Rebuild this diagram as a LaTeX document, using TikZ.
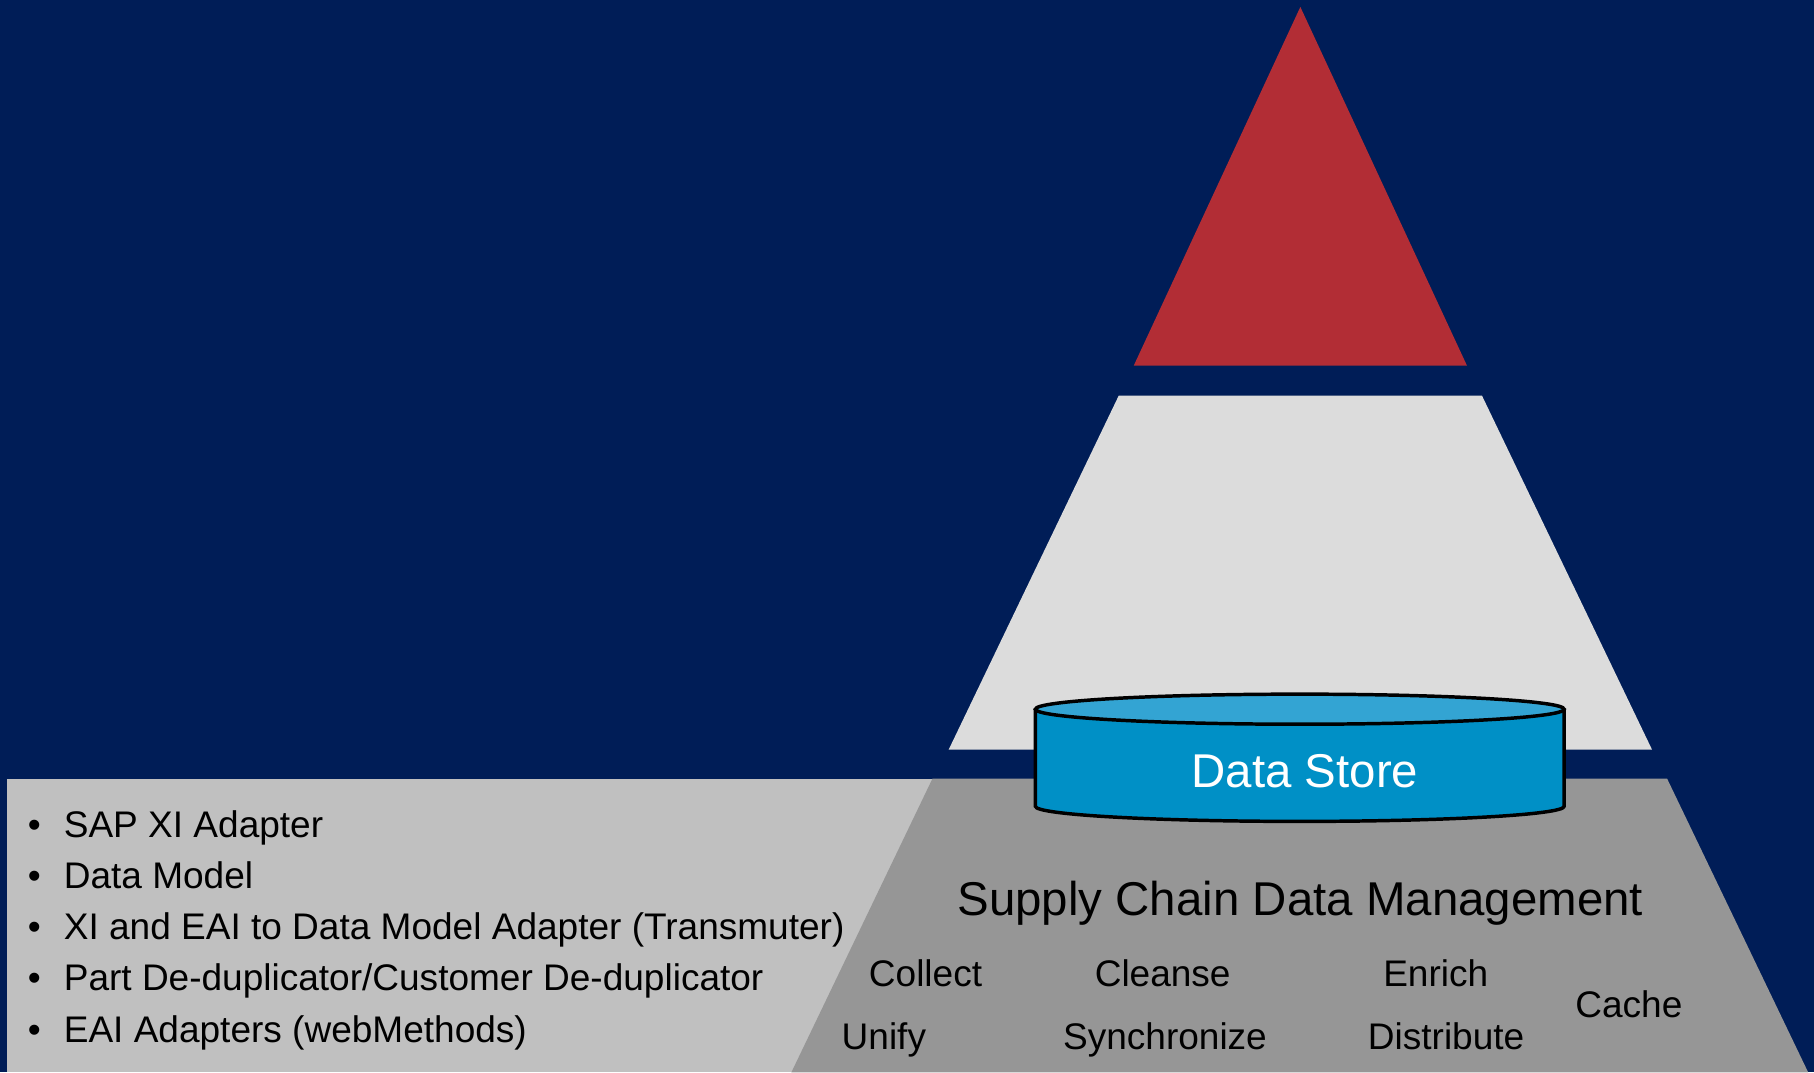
\documentclass[tikz,border=0pt]{standalone}
\usepackage{fontspec}
\setmainfont{Liberation Sans}
\usetikzlibrary{positioning}

\definecolor{navybg}{HTML}{001D57}
\definecolor{apexred}{HTML}{B22D35}
\definecolor{midgray}{HTML}{DCDCDC}
\definecolor{basegray}{HTML}{969696}
\definecolor{panelgray}{HTML}{C0C0C0}
\definecolor{storeblue}{HTML}{0090C6}
\definecolor{storetop}{HTML}{33A4D3}

\begin{document}
\begin{tikzpicture}[
    x=1pt, y=-1pt,
    node distance=44.3pt,
    item/.style={inner sep=0pt, text height=23pt, text depth=0pt, font=\fontsize{32}{38}\selectfont},
    task/.style={inner sep=0pt, text height=23pt, text depth=0pt, font=\fontsize{32}{38}\selectfont},
    heading/.style={inner sep=0pt, text height=29.4pt, text depth=0pt, font=\fontsize{41}{49}\selectfont},
    storelabel/.style={inner sep=0pt, text height=29.4pt, text depth=0pt, text=white, font=\fontsize{41}{49}\selectfont}
]

% Background
\fill[navybg] (0,0) rectangle (1568,927);
\useasboundingbox (0,0) rectangle (1568,927);

% Pyramid layers
\fill[apexred] (1124,6) -- (1268,316) -- (980,316) -- cycle;
\fill[midgray] (967,342) -- (1281,342) -- (1428,648) -- (820,648) -- cycle;
\fill[panelgray] (6,673) rectangle (900,927);
\fill[basegray] (806,673) -- (1441,673) -- (1563,927) -- (684,927) -- cycle;

% Data store
\fill[storeblue] (895,613) -- (895,697) arc[start angle=180, end angle=0, x radius=228.5, y radius=13] -- (1352,613) -- cycle;
\draw[line width=3pt] (895,613) -- (895,697) arc[start angle=180, end angle=0, x radius=228.5, y radius=13] -- (1352,613);
\filldraw[fill=storetop, line width=3pt] (1123.5,613) ellipse[x radius=228.5, y radius=13];
\node[storelabel] (store) at (1128,666) {Data Store};

% Base layer
\node[heading] (scdm) at (1124,777) {Supply Chain Data Management};
\node[task] (collect) at (800,841) {Collect};
\node[task] (cleanse) at (1005,841) {Cleanse};
\node[task] (enrich) at (1241,841) {Enrich};
\node[task] (cache) at (1408,868) {Cache};
\node[task] (unify) at (764,896) {Unify};
\node[task] (sync) at (1007,896) {Synchronize};
\node[task] (distribute) at (1250,896) {Distribute};

% Components list
\node[item, anchor=west] (sapxi) at (24,712) {\makebox[31pt][l]{•}SAP XI Adapter};
\node[item, below=of sapxi.west, anchor=west] (datamodel) {\makebox[31pt][l]{•}Data Model};
\node[item, below=of datamodel.west, anchor=west] (transmuter) {\makebox[31pt][l]{•}XI and EAI to Data Model Adapter (Transmuter)};
\node[item, below=of transmuter.west, anchor=west] (dedup) {\makebox[31pt][l]{•}Part De-duplicator/Customer De-duplicator};
\node[item, below=of dedup.west, anchor=west] (eai) {\makebox[31pt][l]{•}EAI Adapters (webMethods)};

\end{tikzpicture}
\end{document}
